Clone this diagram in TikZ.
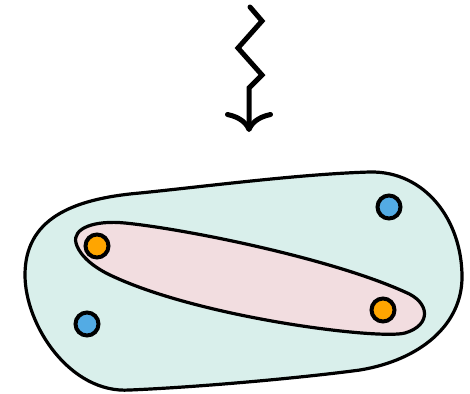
\documentclass[tikz,border=0pt]{standalone}
\usetikzlibrary{arrows.meta}

\definecolor{tealfill}{HTML}{D9EFEB}
\definecolor{pinkfill}{HTML}{F2DDE0}
\definecolor{dotorange}{HTML}{FFA500}
\definecolor{dotblue}{HTML}{53ABE4}

\tikzset{
	dot/.style={circle, draw=black, line width=4pt, inner sep=0pt, minimum size=23pt},
	region/.style={draw=black, line width=3.2pt},
}

\begin{document}
\begin{tikzpicture}[
			x=1pt, y=-1pt,
			line cap=round,
		]
			\useasboundingbox (0, 0) rectangle (470, 393);

			% outer blob
			\filldraw[region, fill=tealfill]
				(25, 275) .. controls (25, 220) and (70, 199) .. (140, 193)
				.. controls (200, 187) and (300, 174) .. (370, 172)
				.. controls (425, 171) and (462, 220) .. (462, 277)
				.. controls (462, 325) and (420, 360) .. (360, 370)
				.. controls (300, 378) and (200, 387) .. (130, 390)
				.. controls (70, 394) and (25, 325) .. cycle;

			% inner region
			\filldraw[region, fill=pinkfill]
				(76, 243) .. controls (72, 228) and (95, 220) .. (125, 223)
				.. controls (185, 229) and (330, 258) .. (405, 292)
				.. controls (430, 302) and (432, 325) .. (405, 333)
				.. controls (380, 340) and (200, 318) .. (110, 275)
				.. controls (87, 264) and (78, 251) .. cycle;

			\node[dot, fill=dotorange] (o1) at (97, 246) {};
			\node[dot, fill=dotorange] (o2) at (383, 310) {};
			\node[dot, fill=dotblue] (b1) at (389, 207) {};
			\node[dot, fill=dotblue] (b2) at (87, 324) {};

			% zigzag arrow
			\coordinate (z0) at (250, 7);
			\coordinate (z1) at (262, 21);
			\coordinate (z2) at (238, 48);
			\coordinate (z3) at (262, 75);
			\coordinate (z4) at (249, 88);
			\coordinate (z5) at (249, 132);
			\draw[line width=5pt, -{Computer Modern Rightarrow[length=20pt, width=48pt]}]
				(z0) -- (z1) -- (z2) -- (z3) -- (z4) -- (z5);
		\end{tikzpicture}
\end{document}
